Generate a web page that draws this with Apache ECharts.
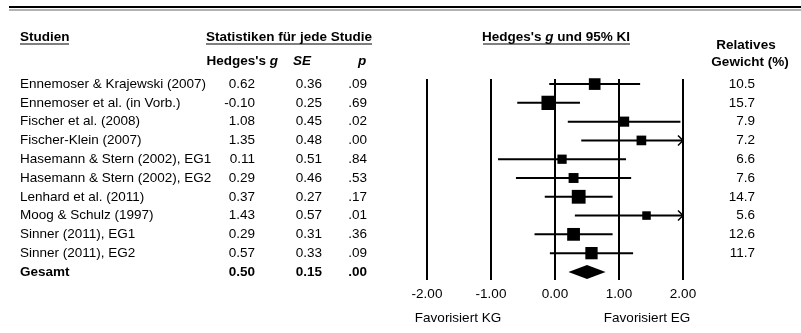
<!DOCTYPE html>
<html>
<head>
<meta charset="utf-8">
<script src="https://cdn.jsdelivr.net/npm/echarts@6/dist/echarts.min.js"></script>
<style>
html,body{margin:0;padding:0;background:#fff;}
#chart{width:801px;height:333px;}
</style>
</head>
<body>
<div id="chart"></div>
<script>
// ---- data ----
const studies = [
  'Ennemoser & Krajewski (2007)',
  'Ennemoser et al. (in Vorb.)',
  'Fischer et al. (2008)',
  'Fischer-Klein (2007)',
  'Hasemann & Stern (2002), EG1',
  'Hasemann & Stern (2002), EG2',
  'Lenhard et al. (2011)',
  'Moog & Schulz (1997)',
  'Sinner (2011), EG1',
  'Sinner (2011), EG2'
];
const hedgesG = [0.62, -0.10, 1.08, 1.35, 0.11, 0.29, 0.37, 1.43, 0.29, 0.57];
const seValues = [0.36, 0.25, 0.45, 0.48, 0.51, 0.46, 0.27, 0.57, 0.31, 0.33];
const pValues = ['.09', '.69', '.02', '.00', '.84', '.53', '.17', '.01', '.36', '.09'];
const ciLower = [-0.09, -0.59, 0.20, 0.41, -0.89, -0.61, -0.16, 0.31, -0.32, -0.08];
const ciUpper = [1.33, 0.39, 1.96, 2.29, 1.11, 1.19, 0.90, 2.55, 0.90, 1.22];
const weights = [10.5, 15.7, 7.9, 7.2, 6.6, 7.6, 14.7, 5.6, 12.6, 11.7];
const overallLabel = 'Gesamt';
const overallG = 0.50;
const overallSE = 0.15;
const overallP = '.00';
const overallLower = 0.21;
const overallUpper = 0.79;
const xTicks = [-2, -1, 0, 1, 2];

// ---- layout ----
const FONT = "'Liberation Sans', Arial, sans-serif";
const FS = 13.5;

const forestRows = studies.map((s, i) => [i, hedgesG[i], ciLower[i], ciUpper[i], weights[i]]);
const tableRows = studies.map((s, i) => [i, 0]).concat([[studies.length, 0]]);

function txt(x, y, text, align, weight) {
  return {
    type: 'text', x: x, y: y,
    style: { text: text, textAlign: align, textVerticalAlign: 'middle',
      font: (weight || 'normal') + ' ' + FS + 'px ' + FONT, fill: '#000' }
  };
}

const yAxisCommon = { type: 'value', min: -0.27, max: 10.43, inverse: true, show: false };

const option = {
  animation: false,
  backgroundColor: '#fff',
  grid: [
    { left: 427, width: 256, top: 79, height: 201 },
    { left: 0, width: 801, top: 79, height: 201 }
  ],
  xAxis: [
    { gridIndex: 0, type: 'value', min: xTicks[0], max: xTicks[xTicks.length - 1], interval: 1,
      axisLine: { show: false }, axisTick: { show: false },
      splitLine: { show: true, lineStyle: { color: '#000', width: 2 } },
      axisLabel: { formatter: v => v.toFixed(2), color: '#000', fontSize: FS, fontFamily: FONT, margin: 7 } },
    { gridIndex: 1, type: 'value', min: 0, max: 801, show: false }
  ],
  yAxis: [
    Object.assign({ gridIndex: 0 }, yAxisCommon),
    Object.assign({ gridIndex: 1 }, yAxisCommon)
  ],
  series: [
    {
      type: 'custom', xAxisIndex: 0, yAxisIndex: 0,
      data: forestRows,
      encode: { x: 1, y: 0 },
      renderItem: function (params, api) {
        const i = api.value(0), g = api.value(1), lo = api.value(2), hi = api.value(3), w = api.value(4);
        const y = api.coord([g, i])[1];
        const xg = api.coord([g, i])[0];
        const xlo = api.coord([Math.max(lo, -2), i])[0];
        const xhi = api.coord([Math.min(hi, 2), i])[0];
        const s = 3.6 * Math.sqrt(w);
        const children = [
          { type: 'line', shape: { x1: xlo, y1: y, x2: xhi, y2: y }, style: { stroke: '#000', lineWidth: 2 } },
          { type: 'rect', shape: { x: xg - s / 2, y: y - s / 2, width: s, height: s }, style: { fill: '#000' } }
        ];
        if (hi > 2) {
          children.push({ type: 'polyline', shape: { points: [[xhi - 5, y - 5], [xhi, y], [xhi - 5, y + 5]] },
            style: { stroke: '#000', lineWidth: 1.5, fill: null } });
        }
        return { type: 'group', children: children };
      }
    },
    {
      type: 'custom', xAxisIndex: 0, yAxisIndex: 0,
      data: [[studies.length, overallG, overallLower, overallUpper]],
      encode: { x: 1, y: 0 },
      renderItem: function (params, api) {
        const i = api.value(0);
        const c = api.coord([api.value(1), i]);
        const l = api.coord([api.value(2), i])[0];
        const r = api.coord([api.value(3), i])[0];
        return { type: 'polygon', shape: { points: [[l, c[1]], [c[0], c[1] - 7], [r, c[1]], [c[0], c[1] + 7]] },
          style: { fill: '#000' } };
      }
    },
    {
      type: 'custom', xAxisIndex: 1, yAxisIndex: 1,
      data: tableRows,
      encode: { x: 1, y: 0 },
      renderItem: function (params, api) {
        const i = api.value(0);
        const y = api.coord([0, i])[1];
        const isTotal = i === studies.length;
        const fw = isTotal ? 'bold' : 'normal';
        const name = isTotal ? overallLabel : studies[i];
        const g = isTotal ? overallG : hedgesG[i];
        const se = isTotal ? overallSE : seValues[i];
        const p = isTotal ? overallP : pValues[i];
        const ch = [
          txt(20, y, name, 'left', fw),
          txt(255, y, g.toFixed(2), 'right', fw),
          txt(322, y, se.toFixed(2), 'right', fw),
          txt(367, y, p, 'right', fw)
        ];
        if (!isTotal) ch.push(txt(755, y, weights[i].toFixed(1), 'right', 'normal'));
        return { type: 'group', children: ch };
      }
    }
  ],
  graphic: [
    { type: 'line', shape: { x1: 9, y1: 7, x2: 801, y2: 7 }, style: { stroke: '#000', lineWidth: 2 } },
    { type: 'line', shape: { x1: 9, y1: 10, x2: 801, y2: 10 }, style: { stroke: '#666', lineWidth: 1 } },
    txt(20, 37, 'Studien', 'left', 'bold'),
    { type: 'line', shape: { x1: 20, y1: 44, x2: 69, y2: 44 }, style: { stroke: '#000', lineWidth: 1 } },
    txt(289, 37, 'Statistiken für jede Studie', 'center', 'bold'),
    { type: 'line', shape: { x1: 206, y1: 44, x2: 372, y2: 44 }, style: { stroke: '#000', lineWidth: 1 } },
    {
      type: 'text', x: 556, y: 37,
      style: { text: "{b|Hedges's }{bi|g}{b| und 95% KI}", textAlign: 'center', textVerticalAlign: 'middle',
        rich: {
          b: { font: 'bold ' + FS + 'px ' + FONT, fill: '#000' },
          bi: { font: 'italic bold ' + FS + 'px ' + FONT, fill: '#000' }
        } }
    },
    { type: 'line', shape: { x1: 483, y1: 44, x2: 630, y2: 44 }, style: { stroke: '#000', lineWidth: 1 } },
    {
      type: 'text', x: 278, y: 61,
      style: { text: "{b|Hedges's }{bi|g}", textAlign: 'right', textVerticalAlign: 'middle',
        rich: {
          b: { font: 'bold ' + FS + 'px ' + FONT, fill: '#000' },
          bi: { font: 'italic bold ' + FS + 'px ' + FONT, fill: '#000' }
        } }
    },
    txt(302, 61, 'SE', 'center', 'italic bold'),
    txt(362, 61, 'p', 'center', 'italic bold'),
    txt(746, 45, 'Relatives', 'center', 'bold'),
    txt(750, 62, 'Gewicht (%)', 'center', 'bold'),
    txt(458, 318, 'Favorisiert KG', 'center', 'normal'),
    txt(647, 318, 'Favorisiert EG', 'center', 'normal')
  ]
};

const chart = echarts.init(document.getElementById('chart'), null, { renderer: 'canvas' });
chart.setOption(option);
</script>
</body>
</html>
